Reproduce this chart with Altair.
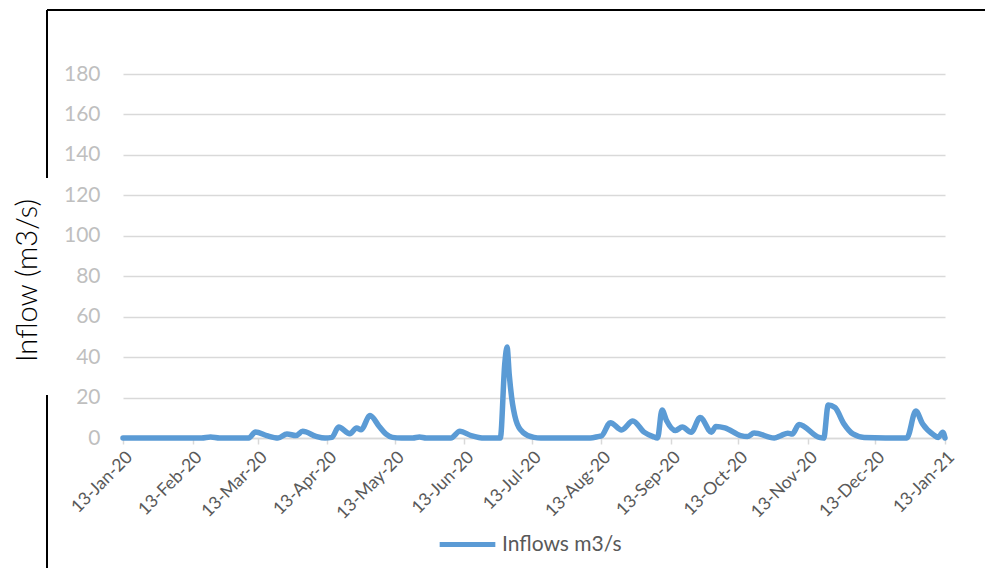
import altair as alt
import pandas as pd

# ---- data ----
dates = [
    "2020-01-13", "2020-02-17", "2020-02-21", "2020-02-25", "2020-03-09", "2020-03-12",
    "2020-03-17", "2020-03-22", "2020-03-26", "2020-03-30", "2020-04-02", "2020-04-08",
    "2020-04-12", "2020-04-15", "2020-04-18", "2020-04-23", "2020-04-26", "2020-04-28",
    "2020-05-02", "2020-05-06", "2020-05-09", "2020-05-12", "2020-05-16", "2020-05-21",
    "2020-05-24", "2020-05-27", "2020-06-07", "2020-06-11", "2020-06-16", "2020-06-22",
    "2020-06-29", "2020-07-01", "2020-07-02", "2020-07-03", "2020-07-04", "2020-07-06",
    "2020-07-09", "2020-07-14", "2020-07-17", "2020-08-08", "2020-08-12", "2020-08-13",
    "2020-08-17", "2020-08-22", "2020-08-27", "2020-09-01", "2020-09-05", "2020-09-07",
    "2020-09-09", "2020-09-11", "2020-09-15", "2020-09-18", "2020-09-22", "2020-09-26",
    "2020-10-01", "2020-10-03", "2020-10-07", "2020-10-14", "2020-10-17", "2020-10-20",
    "2020-10-29", "2020-11-01", "2020-11-04", "2020-11-06", "2020-11-09", "2020-11-18",
    "2020-11-20", "2020-11-22", "2020-11-25", "2020-11-29", "2020-12-03", "2020-12-08",
    "2020-12-27", "2020-12-31", "2021-01-03", "2021-01-08", "2021-01-10", "2021-01-12",
    "2021-01-13",
]
inflows = [
    0, 0, 0.5, 0, 0, 3.0,
    1.2, 0, 2.0, 1.2, 3.3, 0.8,
    0, 0.3, 5.4, 2.1, 5.0, 4.1,
    11.1, 5.8, 2.0, 0.3, 0, 0,
    0.5, 0, 0, 3.3, 1.2, 0,
    0, 37, 45, 31, 20.5, 8.7,
    2.9, 0.3, 0, 0, 0.8, 1.0,
    7.6, 4.0, 8.4, 2.9, 0.7, 0,
    13.8, 8.7, 3.7, 5.4, 2.9, 10.1,
    2.9, 5.7, 5.0, 1.2, 0.7, 2.5,
    0, 1.2, 2.4, 2.0, 6.7, 0.3,
    0, 16.3, 15.1, 7.0, 2.0, 0.3,
    0, 13.3, 7.0, 1.5, 0.3, 2.9,
    0,
]
series_name = "Inflows m3/s"
tick_dates = [
    "2020-01-13", "2020-02-13", "2020-03-13", "2020-04-13", "2020-05-13", "2020-06-13",
    "2020-07-13", "2020-08-13", "2020-09-13", "2020-10-13", "2020-11-13", "2020-12-13",
    "2021-01-13",
]
y_ticks = [0, 20, 40, 60, 80, 100, 120, 140, 160, 180]


def ms(d):
    return int(pd.Timestamp(d, tz="UTC").value // 10**6)


df = pd.DataFrame({"date": dates, "value": inflows, "series": series_name})

line = alt.Chart(df).mark_line(
    strokeWidth=5.5, interpolate="monotone", strokeCap="round", strokeJoin="round"
).encode(
    x=alt.X(
        "date:T",
        scale=alt.Scale(type="utc", domain=[ms(tick_dates[0]), ms(tick_dates[-1])]),
        axis=alt.Axis(
            values=[ms(d) for d in tick_dates],
            format="%d-%b-%y",
            labelAngle=-45,
            labelFont="Lato",
            labelFontSize=17.5,
            labelColor="#595959",
            labelPadding=4,
            grid=False,
            domainColor="#d9d9d9",
            domainWidth=1.5,
            tickColor="#d9d9d9",
            tickWidth=1.5,
            tickSize=6,
            title=None,
            labelOverlap=False,
        ),
    ),
    y=alt.Y(
        "value:Q",
        scale=alt.Scale(domain=[0, 180], nice=False),
        axis=alt.Axis(
            values=y_ticks,
            title="Inflow (m3/s)",
            titleFont="Lato",
            titleFontSize=29,
            titleFontWeight=300,
            titleColor="#000000",
            titleAngle=270,
            titleX=-96,
            titleY=206,
            titleAlign="center",
            titleBaseline="middle",
            labelFont="Lato",
            labelFontSize=21,
            labelColor="#bfbfbf",
            labelPadding=23,
            ticks=False,
            domain=False,
            grid=True,
            gridColor="#d9d9d9",
            gridWidth=1.5,
        ),
    ),
    color=alt.Color(
        "series:N",
        scale=alt.Scale(range=["#5b9bd5"]),
        legend=alt.Legend(
            title=None,
            orient="none",
            legendX=314,
            legendY=440,
            symbolType="stroke",
            symbolSize=3100,
            symbolStrokeWidth=5,
            labelFont="Lato",
            labelFontSize=21,
            labelColor="#595959",
            labelOffset=4,
        ),
    ),
)

frame_data = alt.Data(values=[{}])
frame_left_top = alt.Chart(frame_data).mark_rule(color="black", strokeWidth=2).encode(
    x=alt.value(-76), y=alt.value(-64), y2=alt.value(104)
)
frame_left_bottom = alt.Chart(frame_data).mark_rule(color="black", strokeWidth=2).encode(
    x=alt.value(-76), y=alt.value(321), y2=alt.value(520)
)
frame_top = alt.Chart(frame_data).mark_rule(color="black", strokeWidth=2).encode(
    x=alt.value(-76), x2=alt.value(880), y=alt.value(-64)
)

chart = alt.layer(line, frame_left_top, frame_left_bottom, frame_top).properties(
    width=822,
    height=364,
    autosize="none",
    padding={"left": 115, "top": 66, "right": 40, "bottom": 130},
    background="white",
).configure_view(stroke=None)

chart.save("out.html", embed_options={"renderer": "svg", "actions": False})
